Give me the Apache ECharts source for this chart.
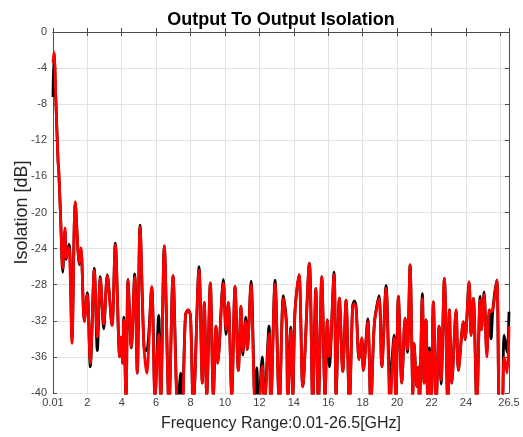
<!DOCTYPE html>
<html>
<head>
<meta charset="utf-8">
<script src="https://cdn.jsdelivr.net/npm/echarts@6/dist/echarts.min.js"></script>
<style>
  html, body { margin: 0; padding: 0; background: #fff; }
  #chart { width: 523px; height: 437px; }
</style>
</head>
<body>
<div id="chart"></div>
<script>
// frequency points [GHz]
const freq = [
  0.01, 0.068, 0.184, 0.30, 0.347, 0.457, 0.574, 0.707, 0.777, 0.94,
  0.998, 1.114, 1.306, 1.538, 1.637, 1.829, 2.003, 2.177, 2.41, 2.584,
  2.758, 2.956, 3.165, 3.438, 3.63, 3.886, 3.961, 4.06, 4.118, 4.252,
  4.368, 4.56, 4.757, 4.908, 5.065, 5.298, 5.454, 5.745, 5.937, 6.152,
  6.268, 6.477, 6.75, 6.983, 7.256, 7.43, 7.52, 7.709, 7.872, 7.999,
  8.162, 8.493, 8.685, 8.801, 8.941, 9.15, 9.324, 9.481, 9.58, 9.905,
  10.062, 10.196, 10.393, 10.585, 10.777, 10.934, 11.033, 11.207, 11.3, 11.515,
  11.748, 11.85, 11.95, 12.172, 12.288, 12.561, 12.66, 12.91, 13.159, 13.392,
  13.566, 13.648, 13.822, 13.938, 14.072, 14.304, 14.519, 14.903, 15.1, 15.275,
  15.426, 15.623, 15.815, 15.949, 16.065, 16.338, 16.454, 16.646, 16.844, 17.035,
  17.227, 17.413, 17.518, 17.616, 17.791, 17.948, 18.04, 18.296, 18.47, 18.68,
  18.953, 19.11, 19.359, 19.592, 19.824, 19.923, 20.074, 20.272, 20.463, 20.597,
  20.754, 20.853, 20.911, 20.986, 21.143, 21.236, 21.294, 21.468, 21.567, 21.683,
  21.782, 21.875, 21.974, 22.107, 22.264, 22.439, 22.555, 22.747, 22.944, 23.037,
  23.177, 23.427, 23.56, 23.851, 23.95, 24.182, 24.298, 24.432, 24.629, 24.821,
  24.897, 25.054, 25.211, 25.361, 25.46, 25.559, 25.791, 25.943, 26.099, 26.216,
  26.39, 26.5
];

// red trace [dB]
const isoRed = [
  -3.4, -2.2, -8.0, -14.2, -15.5, -20.8, -26.2, -21.7, -25.0, -23.9,
  -26.0, -34.5, -18.8, -25.6, -23.9, -32.1, -29.1, -36.7, -26.4, -33.8,
  -27.3, -32.4, -27.0, -32.5, -23.6, -36.0, -33.8, -36.7, -31.9, -40.8,
  -27.5, -34.9, -27.1, -37.8, -21.6, -35.0, -37.8, -28.2, -40.5, -33.5,
  -40.8, -23.7, -41.5, -27.0, -41.5, -41.5, -41.5, -31.3, -30.8, -31.5,
  -41.5, -26.4, -38.9, -30.0, -40.3, -27.8, -40.3, -32.6, -36.7, -27.8,
  -33.0, -30.0, -40.3, -28.2, -37.5, -30.4, -35.4, -32.1, -35.2, -28.0,
  -41.0, -41.0, -41.5, -37.0, -41.5, -33.4, -41.5, -27.9, -41.5, -29.5,
  -32.5, -41.0, -33.0, -40.3, -30.8, -26.9, -39.3, -25.6, -41.5, -28.4,
  -41.5, -27.1, -40.3, -31.9, -36.0, -26.9, -40.3, -29.5, -37.6, -29.7,
  -41.5, -30.6, -30.1, -30.6, -36.3, -33.9, -37.5, -32.1, -41.5, -32.3,
  -29.5, -37.1, -28.4, -41.5, -33.9, -41.5, -29.3, -38.9, -31.7, -35.2,
  -25.8, -34.5, -40.3, -34.5, -39.3, -37.1, -41.5, -29.5, -38.9, -31.9,
  -41.5, -35.4, -41.5, -29.9, -41.5, -32.6, -38.6, -27.3, -41.5, -30.8,
  -38.9, -30.8, -37.5, -32.1, -34.1, -27.7, -33.6, -29.5, -41.5, -29.7,
  -33.0, -29.1, -36.0, -30.8, -31.0, -30.8, -27.5, -41.5, -41.5, -36.0,
  -37.8, -32.6
];

// black trace [dB]
const isoBlack = [
  -7.2, -2.4, -8.0, -14.2, -15.5, -20.8, -26.6, -22.0, -25.2, -23.5,
  -24.6, -34.0, -18.9, -25.8, -24.0, -32.0, -28.9, -37.1, -26.2, -35.3,
  -27.1, -32.9, -26.9, -32.5, -23.4, -36.0, -33.8, -36.7, -31.6, -40.8,
  -27.4, -35.0, -26.8, -37.8, -21.4, -35.0, -35.3, -28.3, -40.5, -31.4,
  -40.8, -23.7, -41.5, -27.0, -41.5, -37.8, -41.5, -31.3, -30.8, -31.5,
  -41.5, -26.0, -38.9, -30.0, -40.3, -27.8, -40.3, -32.6, -36.7, -27.4,
  -33.5, -30.0, -40.3, -28.2, -37.5, -30.4, -35.8, -31.6, -35.2, -27.6,
  -41.0, -37.2, -41.5, -36.0, -41.5, -32.6, -41.5, -27.5, -41.5, -29.2,
  -32.0, -41.0, -32.7, -40.3, -30.8, -26.9, -39.3, -25.6, -41.5, -28.4,
  -41.5, -27.1, -40.5, -31.9, -37.1, -26.6, -40.3, -29.5, -37.6, -29.7,
  -41.5, -30.4, -29.8, -30.4, -36.3, -33.9, -37.5, -31.8, -41.5, -32.3,
  -29.2, -37.1, -28.1, -38.6, -33.6, -41.5, -29.3, -38.9, -31.7, -35.5,
  -25.8, -34.5, -40.3, -34.5, -39.3, -37.1, -41.5, -29.0, -38.9, -31.9,
  -41.5, -35.0, -41.5, -29.9, -41.5, -32.6, -39.0, -27.3, -41.5, -30.8,
  -38.9, -30.8, -37.5, -32.1, -34.1, -27.7, -33.6, -29.5, -41.5, -29.3,
  -33.0, -28.8, -35.5, -30.8, -34.0, -30.8, -27.5, -41.5, -41.5, -33.6,
  -35.5, -31.0
];

const xTicks = [0.01, 2, 4, 6, 8, 10, 12, 14, 16, 18, 20, 22, 24, 26, 26.5];

const toPairs = (ys) => freq.map((f, i) => [f, ys[i]]);

const chart = echarts.init(document.getElementById('chart'));

const labelFont = { fontFamily: 'Liberation Sans', fontSize: 11, color: '#404040' };
const frameLine = { lineStyle: { color: '#4d4d4d', width: 1 } };

chart.setOption({
  animation: false,
  title: {
    text: 'Output To Output Isolation',
    left: 281,
    top: 11,
    padding: 0,
    textAlign: 'center',
    textStyle: { fontFamily: 'Liberation Sans', fontSize: 18, fontWeight: 'bold', color: '#000' }
  },
  grid: { left: 53, right: 14, top: 32, bottom: 44, outerBoundsMode: 'none', containLabel: false },
  xAxis: [
    {
      type: 'value',
      min: 0.01,
      max: 26.5,
      name: 'Frequency Range:0.01-26.5[GHz]',
      nameLocation: 'middle',
      nameGap: 23,
      nameMoveOverlap: false,
      nameTextStyle: { fontFamily: 'Liberation Sans', fontSize: 16, color: '#262626' },
      axisLine: frameLine,
      axisTick: { inside: true, length: 4, customValues: xTicks, lineStyle: { color: '#4d4d4d' } },
      axisLabel: Object.assign({ customValues: xTicks, margin: 4, showMaxLabel: true, showMinLabel: true, hideOverlap: false }, labelFont),
      splitLine: { show: true, lineStyle: { color: '#e3e3e3', width: 1 } }
    },
    {
      type: 'value',
      position: 'top',
      min: 0.01,
      max: 26.5,
      axisLine: frameLine,
      axisTick: { inside: true, length: 4, customValues: xTicks, lineStyle: { color: '#4d4d4d' } },
      axisLabel: { show: false },
      splitLine: { show: false }
    }
  ],
  yAxis: [
    {
      type: 'value',
      min: -40,
      max: 0,
      interval: 4,
      name: 'Isolation [dB]',
      nameLocation: 'middle',
      nameGap: 22,
      nameMoveOverlap: false,
      nameTextStyle: { fontFamily: 'Liberation Sans', fontSize: 18, color: '#262626' },
      axisLine: Object.assign({ show: true }, frameLine),
      axisTick: { show: true, inside: true, length: 4, lineStyle: { color: '#4d4d4d' } },
      axisLabel: Object.assign({ margin: 6 }, labelFont),
      splitLine: { show: true, lineStyle: { color: '#e3e3e3', width: 1 } }
    },
    {
      type: 'value',
      position: 'right',
      min: -40,
      max: 0,
      interval: 4,
      axisLine: Object.assign({ show: true }, frameLine),
      axisTick: { show: true, inside: true, length: 4, lineStyle: { color: '#4d4d4d' } },
      axisLabel: { show: false },
      splitLine: { show: false }
    }
  ],
  series: [
    {
      name: 'black',
      type: 'line',
      data: toPairs(isoBlack),
      showSymbol: false,
      symbol: 'none',
      smooth: 0.3,
      clip: true,
      lineStyle: { color: '#000000', width: 2.8 },
      z: 2
    },
    {
      name: 'red',
      type: 'line',
      data: toPairs(isoRed),
      showSymbol: false,
      symbol: 'none',
      smooth: 0.3,
      clip: true,
      lineStyle: { color: '#ff0000', width: 2.8 },
      z: 3
    }
  ]
});
</script>
</body>
</html>
